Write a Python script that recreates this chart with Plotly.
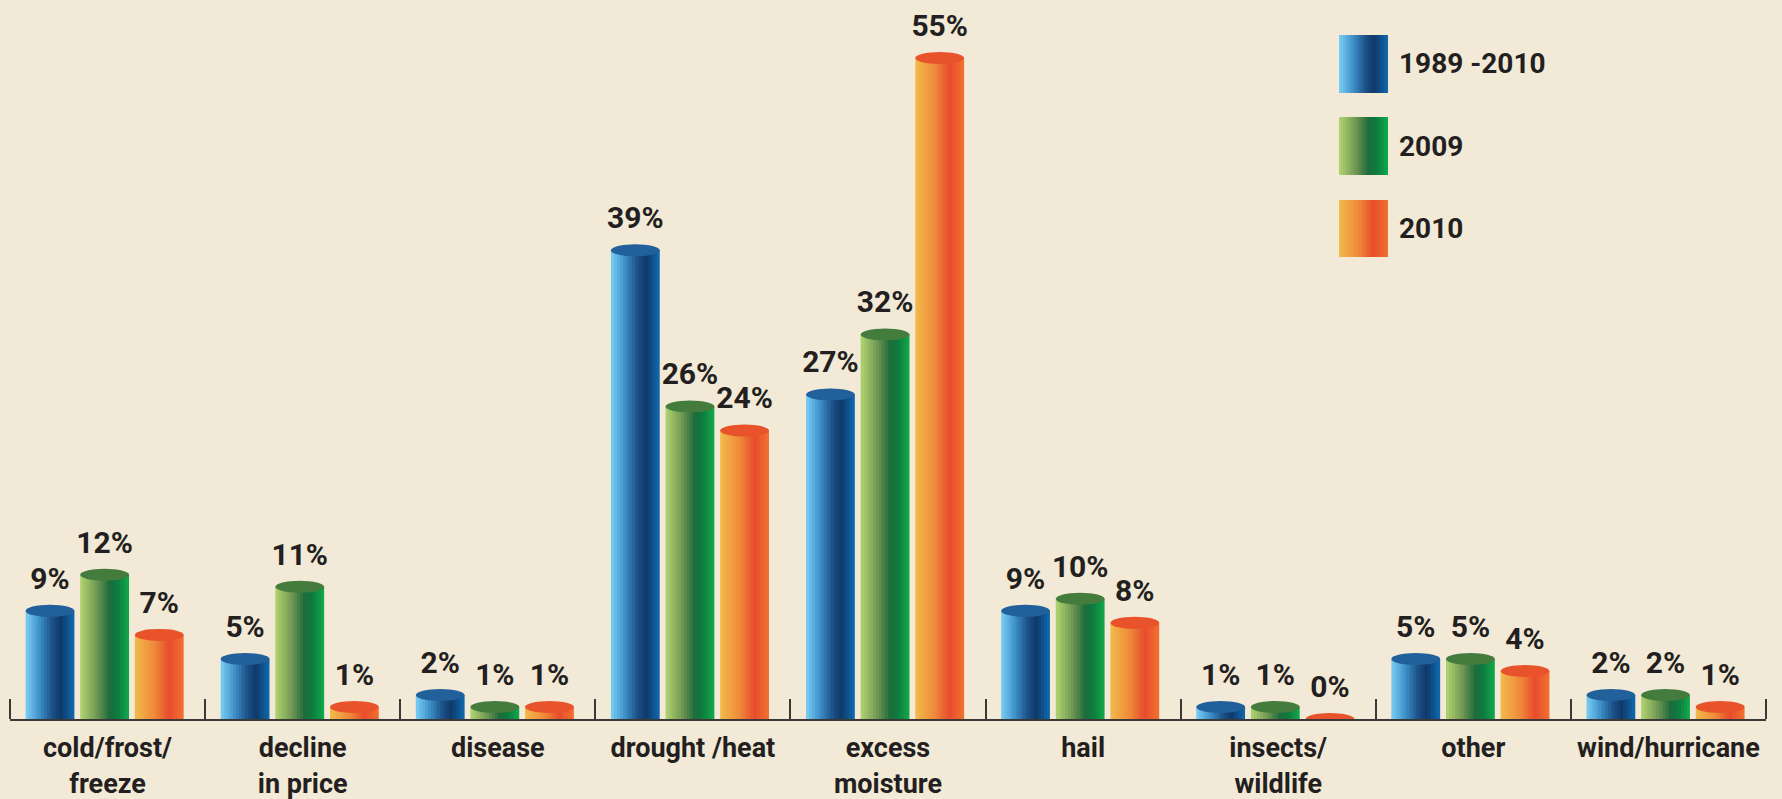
import plotly.graph_objects as go

# ---------------- data ----------------
categories = ["cold/frost/<br>freeze", "decline<br>in price", "disease", "drought /heat",
              "excess<br>moisture", "hail", "insects/<br>wildlife", "other", "wind/hurricane"]
series_names = ["1989 -2010", "2009", "2010"]
values_1989_2010 = [9, 5, 2, 39, 27, 9, 1, 5, 2]
values_2009 = [12, 11, 1, 26, 32, 10, 1, 5, 2]
values_2010 = [7, 1, 1, 24, 55, 8, 0, 4, 1]

# ---------------- style ----------------
W, H = 1782, 799
ML, MR, MT, MB = 10, 16, 10, 80
BG = "#F2E9D6"
INK = "#231F20"
AXIS = "#3B3838"
FONT = "Roboto, Liberation Sans, Arial, sans-serif"
YMAX = 59.0

gradients = [
    [(0.0, "#7BCFF5"), (0.3, "#3B8DC5"), (0.55, "#1B4F86"), (0.72, "#0F3A6A"), (1.0, "#0F6AB0")],
    [(0.0, "#B2D570"), (0.35, "#6E9552"), (0.6, "#1E6B3C"), (0.75, "#0C7A3E"), (1.0, "#12AA4C")],
    [(0.0, "#F2BA4B"), (0.4, "#EE8A3A"), (0.7, "#E84C2C"), (1.0, "#F0722F")],
]
cap_colors = ["#21609A", "#447C3E", "#E9532B"]

BAR_W = 0.25
offsets = [-0.42, -0.14, 0.14]
N_STRIPS = 16


def hex2rgb(h):
    h = h.lstrip("#")
    return tuple(int(h[i:i + 2], 16) for i in (0, 2, 4))


def grad_color(stops, t):
    for (t0, c0), (t1, c1) in zip(stops[:-1], stops[1:]):
        if t0 <= t <= t1:
            f = (t - t0) / (t1 - t0) if t1 > t0 else 0
            a, b = hex2rgb(c0), hex2rgb(c1)
            return "rgb(%d,%d,%d)" % tuple(round(a[i] + (b[i] - a[i]) * f) for i in range(3))
    return stops[-1][1]


all_values = [values_1989_2010, values_2009, values_2010]
x_idx = list(range(len(categories)))

fig = go.Figure()
shapes = []
annotations = []

for s, vals in enumerate(all_values):
    sw = BAR_W / N_STRIPS
    for k in range(N_STRIPS):
        t = (k + 0.5) / N_STRIPS
        extra = sw * 0.6 if k < N_STRIPS - 1 else 0
        fig.add_trace(go.Bar(
            x=x_idx, y=vals, width=sw + extra, offset=offsets[s] + k * sw,
            marker=dict(color=grad_color(gradients[s], t), line=dict(width=0)),
            showlegend=False, hoverinfo="skip",
        ))
    # cylinder caps
    for i, v in zip(x_idx, vals):
        shapes.append(dict(type="circle", xref="x", yref="y",
                           x0=i + offsets[s], x1=i + offsets[s] + BAR_W,
                           ysizemode="pixel", yanchor=v, y0=-6, y1=6,
                           fillcolor=cap_colors[s], line=dict(width=0), layer="above"))
    # value labels
    fig.add_trace(go.Scatter(
        x=[i + offsets[s] + BAR_W / 2 for i in x_idx], y=vals,
        mode="markers+text", text=[f"{v}%" for v in vals], textposition="top center",
        marker=dict(size=22, opacity=0), cliponaxis=False,
        textfont=dict(family=FONT, size=30, color=INK, weight="bold"),
        showlegend=False, hoverinfo="skip",
    ))

# ---------------- custom legend ----------------
plot_w = W - ML - MR
plot_h = H - MT - MB
B = H - MB


def px_x(px):
    return (px - ML) / plot_w


def px_y(py):
    return (B - py) / plot_h


leg_x0, leg_x1 = 1339, 1388
leg_boxes = [(35, 93), (117, 175), (200, 257)]
for s, (ty, by) in enumerate(leg_boxes):
    n = 24
    for k in range(n):
        xa = leg_x0 + (leg_x1 - leg_x0) * k / n
        xb = leg_x0 + (leg_x1 - leg_x0) * (k + 1.6) / n if k < n - 1 else leg_x1
        shapes.append(dict(type="rect", xref="paper", yref="paper",
                           x0=px_x(xa), x1=px_x(xb), y0=px_y(by), y1=px_y(ty),
                           fillcolor=grad_color(gradients[s], (k + 0.5) / n),
                           line=dict(width=0), layer="above"))
    annotations.append(dict(xref="paper", yref="paper", x=px_x(1397), y=px_y((ty + by) / 2),
                            xanchor="left", yanchor="middle", showarrow=False,
                            text=series_names[s],
                            font=dict(family=FONT, size=28, color=INK, weight="bold")))

fig.update_layout(
    width=W, height=H,
    margin=dict(l=ML, r=MR, t=MT, b=MB, autoexpand=False),
    paper_bgcolor=BG, plot_bgcolor=BG,
    barmode="overlay", showlegend=False,
    shapes=shapes, annotations=annotations,
    xaxis=dict(
        range=[-0.5, 8.5], tickmode="array", tickvals=x_idx, ticktext=categories,
        ticks="", showline=True, linecolor=AXIS, linewidth=2,
        showgrid=False, zeroline=False, automargin=False, ticklabelstandoff=4,
        tickfont=dict(family=FONT, size=27, color=INK, weight="bold"),
        minor=dict(tickmode="array", tickvals=[i - 0.5 for i in range(len(categories) + 1)],
                   ticks="inside", ticklen=20, tickwidth=2, tickcolor=AXIS, showgrid=False),
        fixedrange=True,
    ),
    yaxis=dict(visible=False, range=[0, YMAX], showgrid=False, zeroline=False, fixedrange=True),
)

fig.write_html(
    "out.html",
    config={"displayModeBar": False},
    post_script="document.body.style.margin='0px';document.body.style.overflow='hidden';"
                "document.body.style.background='" + BG + "';",
)
